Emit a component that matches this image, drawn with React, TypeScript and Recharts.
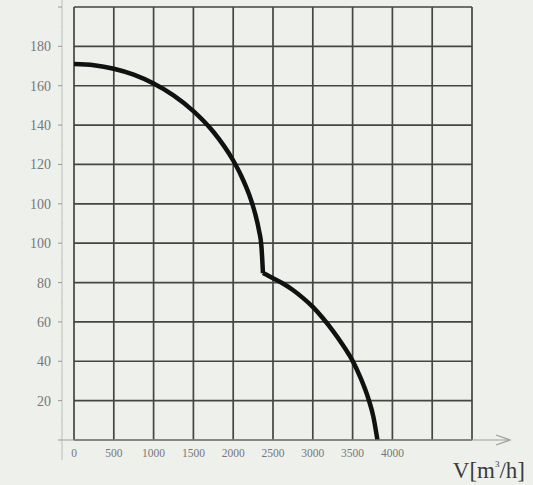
import { LineChart, Line, XAxis, YAxis, CartesianGrid } from "recharts";

// curve: upper branch down to the knee, then lower branch to zero
const upperFlow = [0, 250, 500, 750, 1000, 1250, 1500, 1750, 2000, 2100, 2200, 2275, 2325, 2355, 2374];
const upperHead = [191, 190.4, 188.6, 185.6, 181.1, 175.1, 167.1, 156.6, 142, 134.3, 124.7, 115.1, 106.3, 98.2, 84.8];
const lowerFlow = [2374, 2500, 2625, 2750, 2875, 3000, 3125, 3250, 3375, 3500, 3600, 3700, 3760, 3812];
const lowerHead = [84.8, 82.2, 79.5, 76.2, 72.2, 67.6, 62, 55.6, 48.4, 40.2, 31.6, 20.8, 12, 0];

const xTicks = [0, 500, 1000, 1500, 2000, 2500, 3000, 3500, 4000, 4500, 5000];
const xTickLabels = ["0", "500", "1000", "1500", "2000", "2500", "3000", "3500", "4000", "", ""];
const yTicks = [0, 20, 40, 60, 80, 100, 120, 140, 160, 180, 200, 220];
const yTickLabels = ["", "20", "40", "60", "80", "100", "100", "120", "140", "160", "180", ""];

const upper = upperFlow.map((x, i) => ({ x, y: upperHead[i] }));
const lower = lowerFlow.map((x, i) => ({ x, y: lowerHead[i] }));

const FONT = "'Liberation Serif', 'DejaVu Serif', serif";

function YTick({ x, y, payload }: any) {
  const i = yTicks.indexOf(payload.value);
  const ax = x - 12;
  return (
    <g>
      <line x1={ax} y1={y - 20} x2={ax} y2={y + 20} stroke="#b9bcb7" strokeWidth={1} />
      <line x1={ax - 4} y1={y} x2={ax} y2={y} stroke="#999" strokeWidth={1} />
      <text x={ax - 11} y={y} dy={5} textAnchor="end" fontSize={14} fill="#777" fontFamily={FONT}>
        {yTickLabels[i]}
      </text>
    </g>
  );
}

function XTick({ x, y, payload }: any) {
  const i = xTicks.indexOf(payload.value);
  return (
    <text x={x} y={y} dy={13} textAnchor="middle" fontSize={11.5} fill="#777" fontFamily={FONT}>
      {xTickLabels[i]}
    </text>
  );
}

function AxisLabel({ viewBox }: any) {
  const { x, y, width } = viewBox;
  const end = x + width + 38;
  return (
    <g>
      <line x1={x - 12} y1={y} x2={end} y2={y} stroke="#9a9d98" strokeWidth={1.2} />
      <polyline points={`${end - 14},${y - 5} ${end},${y} ${end - 14},${y + 5}`} fill="none" stroke="#9a9d98" strokeWidth={1.2} />
      <text x={x + width + 53} y={y + 38} textAnchor="end" fontSize={23} fill="#3a3a3a" fontFamily={FONT}>
        V[m<tspan fontSize={9} dy={-11}>3</tspan>
        <tspan dy={11}>/h]</tspan>
      </text>
    </g>
  );
}

export default function App() {
  return (
    <div style={{ position: "absolute", left: 0, top: 0, width: 533, height: 485, background: "#eef0ec" }}>
      <LineChart width={533} height={485} margin={{ top: 7, right: 61, bottom: 0, left: 14 }}>
        <CartesianGrid stroke="#444643" strokeWidth={1.7} />
        <XAxis
          dataKey="x"
          type="number"
          domain={[0, 5000]}
          ticks={xTicks}
          interval={0}
          height={45}
          axisLine={false}
          tickLine={false}
          tickSize={0}
          tickMargin={4}
          tick={<XTick />}
          label={<AxisLabel />}
        />
        <YAxis
          type="number"
          domain={[0, 220]}
          ticks={yTicks}
          interval={0}
          width={60}
          axisLine={false}
          tickLine={false}
          tickSize={0}
          tickMargin={0}
          tick={<YTick />}
        />
        <Line data={upper} dataKey="y" type="monotone" stroke="#111" strokeWidth={4.5} dot={false} isAnimationActive={false} />
        <Line data={lower} dataKey="y" type="monotone" stroke="#111" strokeWidth={4.5} dot={false} isAnimationActive={false} />
      </LineChart>
    </div>
  );
}
